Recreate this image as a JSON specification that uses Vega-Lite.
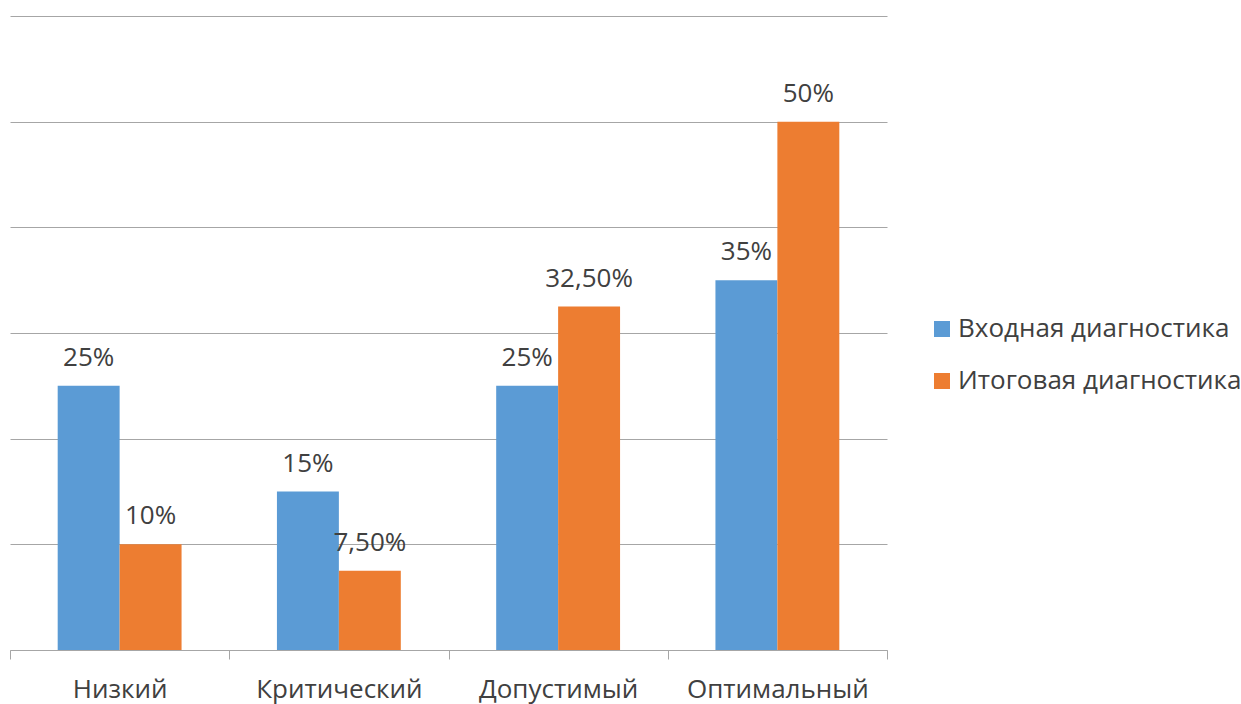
{
  "$schema": "https://vega.github.io/schema/vega-lite/v6.json",
  "width": 877,
  "height": 634,
  "autosize": {"type": "none"},
  "padding": {"left": 10, "top": 16, "right": 354, "bottom": 54},
  "background": "white",
  "config": {
    "view": {"stroke": null},
    "font": "Open Sans"
  },
  "data": {
    "values": [
      {"level": "Низкий", "series": "Входная диагностика", "value": 25, "label": "25%"},
      {"level": "Низкий", "series": "Итоговая диагностика", "value": 10, "label": "10%"},
      {"level": "Критический", "series": "Входная диагностика", "value": 15, "label": "15%"},
      {"level": "Критический", "series": "Итоговая диагностика", "value": 7.5, "label": "7,50%"},
      {"level": "Допустимый", "series": "Входная диагностика", "value": 25, "label": "25%"},
      {"level": "Допустимый", "series": "Итоговая диагностика", "value": 32.5, "label": "32,50%"},
      {"level": "Оптимальный", "series": "Входная диагностика", "value": 35, "label": "35%"},
      {"level": "Оптимальный", "series": "Итоговая диагностика", "value": 50, "label": "50%"}
    ]
  },
  "encoding": {
    "x": {
      "field": "level",
      "type": "nominal",
      "sort": ["Низкий", "Критический", "Допустимый", "Оптимальный"],
      "scale": {"paddingInner": 0, "paddingOuter": 0},
      "axis": {
        "title": null,
        "labelAngle": 0,
        "labelFont": "Open Sans",
        "labelFontSize": 26,
        "labelColor": "#404040",
        "labelPadding": 17,
        "labelLimit": 300,
        "domainColor": "#A6A6A6",
        "domainWidth": 1,
        "tickColor": "#A6A6A6",
        "tickSize": 9,
        "tickBand": "extent",
        "grid": false
      }
    },
    "xOffset": {
      "field": "series",
      "type": "nominal",
      "sort": ["Входная диагностика", "Итоговая диагностика"],
      "scale": {"paddingInner": 0, "paddingOuter": 0.77}
    },
    "y": {
      "field": "value",
      "type": "quantitative",
      "scale": {"domain": [0, 60], "nice": false},
      "axis": {
        "title": null,
        "values": [0, 10, 20, 30, 40, 50, 60],
        "labels": false,
        "ticks": false,
        "domain": false,
        "grid": true,
        "gridColor": "#A6A6A6",
        "gridWidth": 1
      }
    }
  },
  "layer": [
    {
      "mark": {"type": "bar"},
      "encoding": {
        "color": {
          "field": "series",
          "type": "nominal",
          "sort": ["Входная диагностика", "Итоговая диагностика"],
          "scale": {"range": ["#5B9BD5", "#ED7D31"]},
          "legend": {
            "title": null,
            "orient": "none",
            "legendX": 919,
            "legendY": 300,
            "padding": 0,
            "symbolType": "square",
            "symbolSize": 256,
            "symbolStrokeWidth": 0,
            "labelFont": "Open Sans",
            "labelFontSize": 26,
            "labelColor": "#404040",
            "labelOffset": 3,
            "labelLimit": 340,
            "rowPadding": 26
          }
        }
      }
    },
    {
      "mark": {
        "type": "text",
        "baseline": "alphabetic",
        "align": "center",
        "dy": -20,
        "font": "Open Sans",
        "fontSize": 26,
        "color": "#404040"
      },
      "encoding": {
        "text": {"field": "label", "type": "nominal"}
      }
    }
  ]
}
